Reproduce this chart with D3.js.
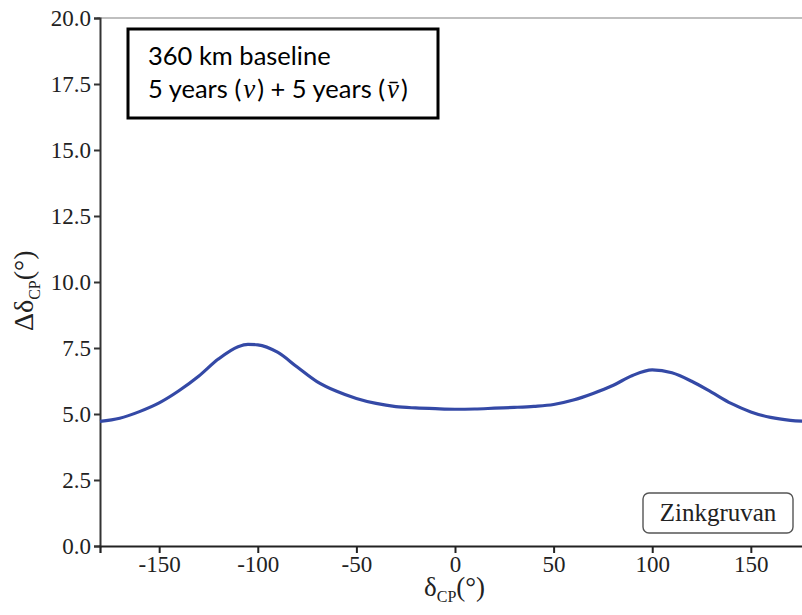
<!DOCTYPE html>
<html>
<head>
<meta charset="utf-8">
<script src="https://cdn.jsdelivr.net/npm/d3@7"></script>
</head>
<body style="margin:0">
<svg id="chart" width="802" height="615"></svg>
<script>
// δCP grid (degrees) and the resolution Δδ_CP (degrees) at each point
const deltaCP = [-180, -170, -160, -150, -140, -130, -120, -110, -105, -100, -90, -80, -70, -60, -50, -40, -30, -20, -10,
                 0, 10, 20, 30, 40, 50, 60, 70, 80, 90, 100, 110, 120, 130, 140, 150, 160, 170, 180];
const resolution = [4.72, 4.84, 5.09, 5.42, 5.88, 6.43, 7.08, 7.55, 7.64, 7.62, 7.34, 6.78, 6.23, 5.86, 5.59, 5.40, 5.28, 5.23, 5.20,
                    5.18, 5.19, 5.22, 5.25, 5.29, 5.36, 5.53, 5.78, 6.08, 6.46, 6.67, 6.56, 6.24, 5.83, 5.40, 5.08, 4.87, 4.76, 4.72];

const xTicks = [-150, -100, -50, 0, 50, 100, 150];
const yTicks = [0, 2.5, 5, 7.5, 10, 12.5, 15, 17.5, 20];

const siteLabel = "Zinkgruvan";
const infoLines = ["360 km baseline", "5 years (v) + 5 years (v\u0304)"];

const SERIF = "\"Liberation Serif\"";
const SANS = "\"Lato\"";

const svg = d3.select("#chart");
const plotLeft = 100, plotTop = 18, plotBottom = 546, plotRight = 810;

const x = d3.scaleLinear().domain([-180, 180]).range([plotLeft, plotRight]);
const y = d3.scaleLinear().domain([0, 20]).range([plotBottom, plotTop]);

// top frame line
svg.append("line")
  .attr("x1", plotLeft - 3).attr("x2", 802)
  .attr("y1", plotTop).attr("y2", plotTop)
  .attr("stroke", "#808080").attr("stroke-width", 1.2);

// y axis
const yAxis = svg.append("g")
  .attr("transform", `translate(${plotLeft},0)`)
  .call(d3.axisLeft(y).tickValues(yTicks).tickFormat(d3.format(".1f")).tickSize(6).tickPadding(3));
yAxis.attr("font-family", null).style("font-family", SERIF);
yAxis.select(".domain").attr("stroke", "#333").attr("stroke-width", 2);
yAxis.selectAll(".tick line").attr("stroke", "#333").attr("stroke-width", 2);
yAxis.selectAll(".tick text")
  .style("font-family", SERIF).attr("font-size", 23).attr("fill", "#222")
  .attr("dy", "0.34em");

// x axis
const xAxis = svg.append("g")
  .attr("transform", `translate(0,${plotBottom})`)
  .call(d3.axisBottom(x).tickValues(xTicks).tickFormat(d => String(d)).tickSize(7).tickPadding(3));
xAxis.attr("font-family", null).style("font-family", SERIF);
xAxis.select(".domain").attr("stroke", "#222").attr("stroke-width", 2.2);
xAxis.selectAll(".tick line").attr("stroke", "#222").attr("stroke-width", 2);
xAxis.selectAll(".tick text")
  .style("font-family", SERIF).attr("font-size", 23).attr("fill", "#222");

// resolution curve
const line = d3.line()
  .x((d, i) => x(deltaCP[i]))
  .y(d => y(d))
  .curve(d3.curveMonotoneX);

svg.append("path")
  .datum(resolution)
  .attr("d", line)
  .attr("fill", "none")
  .attr("stroke", "#3449a6")
  .attr("stroke-width", 3.2)
  .attr("stroke-linejoin", "round");

// axis titles
const xTitle = svg.append("text")
  .attr("x", 424).attr("y", 596)
  .style("font-family", SERIF).attr("font-size", 27).attr("fill", "#222");
xTitle.append("tspan").text("δ");
xTitle.append("tspan").attr("font-size", 16).attr("dy", 6).text("CP");
xTitle.append("tspan").attr("dy", -6).text("(°)");

const yTitle = svg.append("text")
  .attr("transform", "translate(33,331) rotate(-90)")
  .style("font-family", SERIF).attr("font-size", 28).attr("fill", "#222");
yTitle.append("tspan").text("Δδ");
yTitle.append("tspan").attr("font-size", 16).attr("dy", 7).text("CP");
yTitle.append("tspan").attr("dy", -7).text("(°)");

// site label box
svg.append("rect")
  .attr("x", 643).attr("y", 493).attr("width", 150).attr("height", 40)
  .attr("rx", 6).attr("ry", 6)
  .attr("fill", "#fff").attr("stroke", "#555").attr("stroke-width", 1.4);
svg.append("text")
  .attr("x", 718).attr("y", 521)
  .attr("text-anchor", "middle")
  .style("font-family", SERIF).attr("font-size", 25).attr("fill", "#222")
  .text(siteLabel);

// info box
svg.append("rect")
  .attr("x", 128).attr("y", 29).attr("width", 310).attr("height", 89)
  .attr("fill", "#fff").attr("stroke", "#000").attr("stroke-width", 3);

svg.append("text")
  .attr("x", 148).attr("y", 65)
  .style("font-family", SANS).attr("font-size", 25.5).attr("fill", "#000")
  .text(infoLines[0]);

const l2 = svg.append("text")
  .attr("x", 148).attr("y", 98)
  .style("font-family", SANS).attr("font-size", 25.5).attr("fill", "#000");
l2.append("tspan").text("5 years (");
l2.append("tspan").style("font-family", SERIF).style("font-style", "italic").attr("font-size", 27).attr("dx", 2).text("v");
l2.append("tspan").attr("dx", 2).text(") + 5 years (");
l2.append("tspan").style("font-family", SERIF).style("font-style", "italic").attr("font-size", 27).attr("dx", 2).text("v\u0304");
l2.append("tspan").attr("dx", 2).text(")");
</script>
</body>
</html>
